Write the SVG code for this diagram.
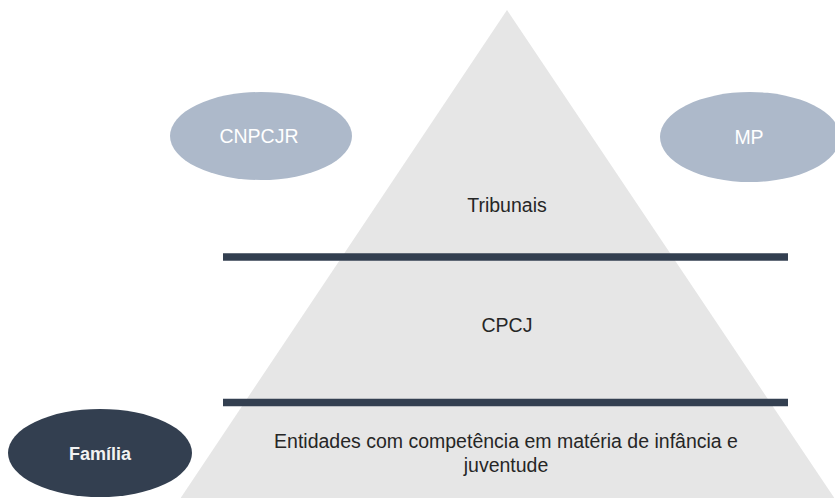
<svg xmlns="http://www.w3.org/2000/svg" width="835" height="498" viewBox="0 0 835 498">
<style>
text{font-family:"Liberation Sans",Arial,sans-serif;font-size:19.5px;text-anchor:middle}
.dark{fill:#262626}
.light{fill:#ffffff}
.bar{stroke:#333f50;stroke-width:7.5;fill:none}
</style>
<rect width="835" height="498" fill="#ffffff"/>
<g id="pyramid">
<polygon points="507,10 835,499 180,499" fill="#e6e6e6"/>
</g>
<g id="connectors">
<line class="bar" x1="223" y1="257" x2="788" y2="257"/>
<line class="bar" x1="223" y1="402.5" x2="788" y2="402.5"/>
</g>
<g id="tribunais"><text class="dark" x="507" y="212">Tribunais</text></g>
<g id="cpcj"><text class="dark" x="507" y="332">CPCJ</text></g>
<g id="entidades">
<text class="dark" x="506" y="448">Entidades com competência em matéria de infância e</text>
<text class="dark" x="506" y="472">juventude</text>
</g>
<g id="cnpcjr">
<ellipse cx="261" cy="136" rx="91" ry="44" fill="#adb9ca"/>
<text class="light" x="259" y="143">CNPCJR</text>
</g>
<g id="mp">
<ellipse cx="750" cy="137" rx="90" ry="45" fill="#adb9ca"/>
<text class="light" x="749" y="144">MP</text>
</g>
<g id="familia">
<ellipse cx="100" cy="453" rx="92" ry="44" fill="#333f50"/>
<text class="light" x="100" y="460" style="fill:#f2f2f2;font-weight:bold;font-size:18px">Família</text>
</g>
</svg>
